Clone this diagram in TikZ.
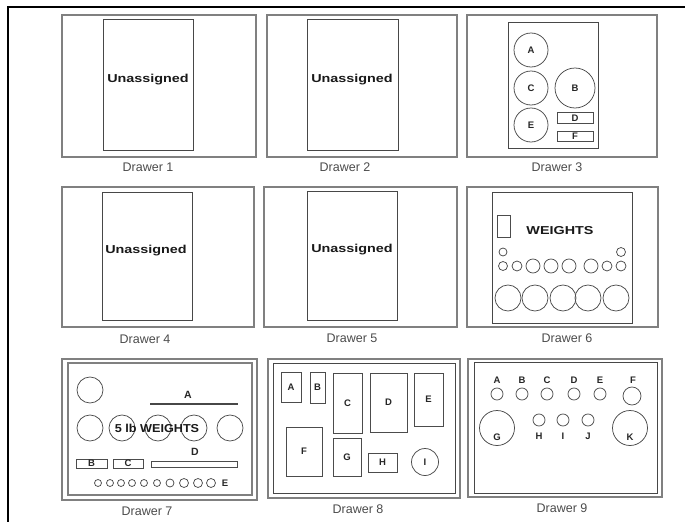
\documentclass[tikz,border=0pt]{standalone}
\usepackage{fontspec}
\setmainfont{Liberation Sans}
\newcommand\widetxt[1]{\scalebox{1.25}[1]{#1}}
\begin{document}
\begin{tikzpicture}[x=1pt,y=-1pt,
  panel/.style={draw=black!50,line width=1.1pt},
  tray/.style={draw=black!72,line width=1pt},
  ring/.style={circle,draw=black!70,line width=0.75pt,inner sep=0pt},
  box/.style={rectangle,draw=black!70,line width=0.75pt,inner sep=0pt},
  dlabel/.style={font=\fontsize{12.5}{14}\selectfont,text=black!70,inner sep=0pt},
  bigbold/.style={font=\bfseries\fontsize{11.5}{12}\selectfont,text=black!90,inner sep=0pt},
  let/.style={font=\bfseries\fontsize{9.5}{10}\selectfont,text=black!85}]
\useasboundingbox (0,0) rectangle (685,522);
\fill[white] (0,0) rectangle (685,522);
% outer frame
\draw[line width=2pt] (685,7) -- (8,7) -- (8,522);

% ---------- Drawer 1
\draw[panel] (62,15) rectangle (256,157);
\draw[tray] (103,19) rectangle (193,150);
\node[bigbold] (u1) at (148,80) {\widetxt{Unassigned}};
\node[dlabel] (l1) at (148,167) {Drawer 1};

% ---------- Drawer 2
\draw[panel] (267,15) rectangle (457,157);
\draw[tray] (307,19) rectangle (398,150);
\node[bigbold] (u2) at (352,80) {\widetxt{Unassigned}};
\node[dlabel] (l2) at (345,167) {Drawer 2};

% ---------- Drawer 3
\draw[panel] (467,15) rectangle (657,157);
\draw[tray] (508,22) rectangle (598,148);
\node[ring,minimum size=34pt,let] (d3a) at (531,50) {A};
\node[ring,minimum size=34pt,let] (d3c) at (531,88) {C};
\node[ring,minimum size=40pt,let] (d3b) at (575,88) {B};
\node[ring,minimum size=34pt,let] (d3e) at (531,125) {E};
\node[box,minimum width=36pt,minimum height=11pt,let] (d3d) at (575,118) {D};
\node[box,minimum width=36pt,minimum height=10pt,let] (d3f) at (575,136) {F};
\node[dlabel] (l3) at (557,167) {Drawer 3};

% ---------- Drawer 4
\draw[panel] (62,187) rectangle (254,327);
\draw[tray] (102,192) rectangle (192,320);
\node[bigbold] (u4) at (146,251) {\widetxt{Unassigned}};
\node[dlabel] (l4) at (145,339) {Drawer 4};

% ---------- Drawer 5
\draw[panel] (264,187) rectangle (457,327);
\draw[tray] (307,191) rectangle (397,320);
\node[bigbold] (u5) at (352,250) {\widetxt{Unassigned}};
\node[dlabel] (l5) at (352,338) {Drawer 5};

% ---------- Drawer 6
\draw[panel] (467,187) rectangle (658,327);
\draw[tray] (492,192) rectangle (632,323);
\node[box,minimum width=13pt,minimum height=22pt] (d6r) at (503.5,226) {};
\node[bigbold] (d6w) at (560,231) {\widetxt{WEIGHTS}};
\node[ring,minimum size=8pt] (d6t1) at (503,252) {};
\node[ring,minimum size=9pt] (d6t2) at (621,252) {};
\foreach \x/\d [count=\i] in {503/9,517/10,533/14,551/14,569/14,591/14,607/10,621/10}
  \node[ring,minimum size=\d pt] (d6m\i) at (\x,266) {};
\foreach \x [count=\i] in {508,535,563,588,616}
  \node[ring,minimum size=26pt] (d6b\i) at (\x,298) {};
\node[dlabel] (l6) at (567,338) {Drawer 6};

% ---------- Drawer 7
\draw[panel] (62,359) rectangle (257,500);
\draw[panel] (68,363) rectangle (252,495);
\node[ring,minimum size=26pt] (d7c0) at (90,390) {};
\draw[tray,line width=1.3pt] (150,404) -- (238,404);
\node[let,font=\bfseries\fontsize{10.5}{12}\selectfont] (d7a) at (188,395) {A};
\foreach \x [count=\i] in {90,122,158,194,230}
  \node[ring,minimum size=26pt] (d7c\i) at (\x,428) {};
\node[bigbold] (d7w) at (157,428) {\scalebox{1.1}[1]{5 lb WEIGHTS}};
\node[let,font=\bfseries\fontsize{10.5}{12}\selectfont] (d7dl) at (195,452) {D};
\node[box,minimum width=86pt,minimum height=6pt] (d7d) at (194,464) {};
\node[box,minimum width=31pt,minimum height=9pt,let] (d7b) at (91.5,463.5) {B};
\node[box,minimum width=30pt,minimum height=9pt,let] (d7cc) at (128,463.5) {C};
\foreach \x/\d [count=\i] in {98/7,110/7,121/7,132/7,144/7,157/7,170/8,184/9,198/9,211/9}
  \node[ring,minimum size=\d pt] (d7s\i) at (\x,483) {};
\node[let] (d7e) at (225,483) {E};
\node[dlabel] (l7) at (147,511) {Drawer 7};

% ---------- Drawer 8
\draw[panel] (268,359) rectangle (460,498);
\draw[tray] (273,363) rectangle (455,493);
\node[box,minimum width=20pt,minimum height=30pt,let] (d8a) at (291,387) {A};
\node[box,minimum width=15pt,minimum height=31pt,let] (d8b) at (317.5,387.5) {B};
\node[box,minimum width=29pt,minimum height=60pt,let] (d8c) at (347.5,403) {C};
\node[box,minimum width=37pt,minimum height=59pt,let] (d8d) at (388.5,402.5) {D};
\node[box,minimum width=29pt,minimum height=53pt,let] (d8e) at (428.5,399.5) {E};
\node[box,minimum width=36pt,minimum height=49pt,let] (d8f) at (304,451.5) {F};
\node[box,minimum width=28pt,minimum height=38pt,let] (d8g) at (347,457) {G};
\node[box,minimum width=29pt,minimum height=19pt,let] (d8h) at (382.5,462.5) {H};
\node[ring,minimum size=27pt,let] (d8i) at (425,462) {I};
\node[dlabel] (l8) at (358,509) {Drawer 8};

% ---------- Drawer 9
\draw[panel] (468,359) rectangle (662,497);
\draw[tray] (474,362) rectangle (657,493);
\foreach \x/\t [count=\i] in {497/A,522/B,547/C,574/D,600/E}{
  \node[ring,minimum size=12pt] (d9c\i) at (\x,394) {};
  \node[let] (d9l\i) at (\x,380) {\t};
}
\node[ring,minimum size=18pt] (d9cf) at (632,396) {};
\node[let] (d9lf) at (633,380) {F};
\foreach \x/\t [count=\i] in {539/H,563/I,588/J}{
  \node[ring,minimum size=12pt] (d9m\i) at (\x,420) {};
  \node[let] (d9ml\i) at (\x,436) {\t};
}
\node[ring,minimum size=35pt] (d9g) at (497,428) {};
\node[let] (d9gl) at (497,437) {G};
\node[ring,minimum size=35pt] (d9k) at (630,428) {};
\node[let] (d9kl) at (630,437) {K};
\node[dlabel] (l9) at (562,508) {Drawer 9};
\end{tikzpicture}
\end{document}
